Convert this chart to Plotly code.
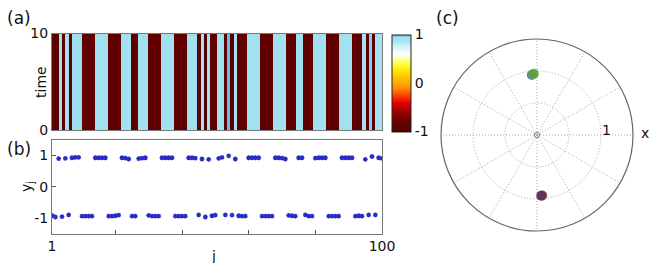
import plotly.graph_objects as go

# ---------------- data ----------------
j_index = list(range(1, 101))
y_vals = [
    -0.92, -0.97, 0.90, -0.96, 0.91, -0.90, 0.93, 0.94, 0.94,
    -0.94, -0.94, -0.94, -0.94,
    0.93, 0.93, 0.93, 0.93,
    -0.94, -0.94, -0.93, -0.91,
    0.93, 0.92, 0.89,
    -0.94, -0.94,
    0.90, 0.92, 0.93,
    -0.92, -0.94, -0.94, -0.94,
    0.93, 0.93, 0.93, 0.93,
    -0.94, -0.94, -0.94, -0.94,
    0.93, 0.93, 0.92,
    -0.90, 0.89, -0.97, 0.88,
    -0.93, -0.91,
    0.91, 0.94,
    -0.90, 0.99, -0.91, 0.89,
    -0.93, -0.94, -0.94,
    0.93, 0.93, 0.93, 0.93,
    -0.94, -0.94, -0.94, -0.94,
    0.93, 0.93, 0.92, 0.89,
    -0.92, -0.93, -0.94,
    0.93, 0.93,
    -0.90, -0.94, -0.94,
    0.92, 0.93, 0.93, 0.93,
    -0.94, -0.94, -0.94, -0.94,
    0.93, 0.93, 0.93, 0.93,
    -0.94, -0.93, -0.94,
    0.88, -0.90, 0.97, -0.90,
    0.93, 0.91,
]
time_edges = [0, 10]

# polar panel (c): cluster points
polar_r = [0.94, 0.96, 0.95, 0.95]
polar_theta = [95, 93, -85, -86]
polar_colors = ["#5a7f8c", "#5aa036", "#b03a55", "#573160"]

# page body has an 8px margin; lay out in reference pixel coordinates
OFF = 8
W, H = 664 - 2 * OFF, 271 - 2 * OFF
def px(x): return (x - OFF) / W
def py(y): return 1 - (y - OFF) / H

FONT = "DejaVu Sans"
colorscale = [
    [0.0, "#000000"], [0.012, "#4a0000"], [0.02, "#600000"], [0.08, "#620000"],
    [0.15, "#7a0000"], [0.22, "#a80000"], [0.30, "#e00000"], [0.36, "#ff3000"],
    [0.45, "#ff8c00"], [0.52, "#ffb000"], [0.62, "#ffe000"], [0.70, "#ffff40"],
    [0.80, "#ffffff"], [0.88, "#d2f2f8"], [0.93, "#a8e4f0"], [0.975, "#a0e0f0"],
    [1.0, "#40c0f0"],
]

fig = go.Figure()

# (a) heatmap
fig.add_trace(go.Heatmap(
    z=[y_vals], x=j_index, y=time_edges,
    zmin=-1, zmax=1, colorscale=colorscale,
    xaxis="x", yaxis="y",
    colorbar=dict(
        x=px(392), xanchor="left", y=py(83), yanchor="middle",
        len=97 / H, lenmode="fraction", thickness=19, thicknessmode="pixels",
        xpad=0, ypad=0, outlinewidth=1, outlinecolor="#222",
        tickvals=[-1, 0, 1], ticktext=["-1", "0", "1"], ticks="",
        tickfont=dict(family=FONT, size=14, color="#111"),
    ),
    hoverinfo="skip",
))

# (b) scatter
fig.add_trace(go.Scatter(
    x=j_index, y=y_vals, mode="markers",
    marker=dict(symbol="asterisk-open", size=4, color="#2a2ac8",
                line=dict(color="#2a2ac8", width=1.3)),
    xaxis="x2", yaxis="y2", showlegend=False,
))

# (c) polar
fig.add_trace(go.Scatterpolar(
    r=[0], theta=[0], mode="markers",
    marker=dict(symbol="circle-open", size=5, color="#777", line=dict(width=1)),
    subplot="polar", showlegend=False,
))
fig.add_trace(go.Scatterpolar(
    r=polar_r, theta=polar_theta, mode="markers",
    marker=dict(size=10, color=polar_colors, opacity=0.9),
    subplot="polar", showlegend=False,
))

frame = dict(showline=True, linecolor="#777", linewidth=1, mirror=True, zeroline=False,
             showgrid=False, automargin=False,
             tickfont=dict(family=FONT, size=14, color="#111"))

fig.update_layout(
    width=W, height=H, margin=dict(l=0, r=0, t=0, b=0),
    paper_bgcolor="white", plot_bgcolor="white", showlegend=False,
    font=dict(family=FONT, color="#111"),
    xaxis=dict(domain=[px(52), px(382)], range=[0.5, 100.5], showticklabels=False,
               ticks="", anchor="y", **frame),
    yaxis=dict(domain=[py(130), py(33.5)], range=[0, 10], tickvals=[0, 10],
               ticktext=["0", "10"], ticks="", ticklen=0, anchor="x", **frame),
    xaxis2=dict(domain=[px(52), px(382)], range=[1, 100],
                tickvals=[1, 20, 40, 60, 80, 100], ticktext=["1", "", "", "", "", "100"],
                ticks="inside", ticklen=4, tickcolor="#555", anchor="y2", **frame),
    yaxis2=dict(domain=[py(233.5), py(140)], range=[-1.5, 1.5], tickvals=[-1, 0, 1],
                ticktext=["-1", "0", "1"], ticks="inside", ticklen=4, tickcolor="#555",
                anchor="x2", **frame),
    polar=dict(
        domain=dict(x=[px(441), px(633)], y=[py(231), py(39)]),
        bgcolor="white",
        radialaxis=dict(range=[0, 1.5], tickvals=[0.5, 1.0], showticklabels=False,
                        ticks="", showline=False, gridcolor="#a8a8a8",
                        griddash="1px,2px", gridwidth=1),
        angularaxis=dict(dtick=30, showticklabels=False, ticks="", showline=True,
                         linecolor="#666", linewidth=1.2, gridcolor="#a8a8a8",
                         griddash="1px,2px", gridwidth=1),
    ),
)

ann = []
def label(text, x, y, size=14, angle=0):
    ann.append(dict(text=text, x=px(x), y=py(y), xref="paper", yref="paper",
                    showarrow=False, textangle=angle,
                    font=dict(family=FONT, size=size, color="#111"),
                    xanchor="center", yanchor="middle"))

label("(a)", 19, 18, size=17)
label("(b)", 19, 149, size=17)
label("(c)", 447, 18, size=17)
label("time", 41, 82, angle=-90)
label("y<sub>j</sub>", 27, 187, angle=-90)
label("j", 213, 256)
label("1", 606, 130)
label("x", 645, 133)
fig.update_layout(annotations=ann)

fig.write_html("out.html")
